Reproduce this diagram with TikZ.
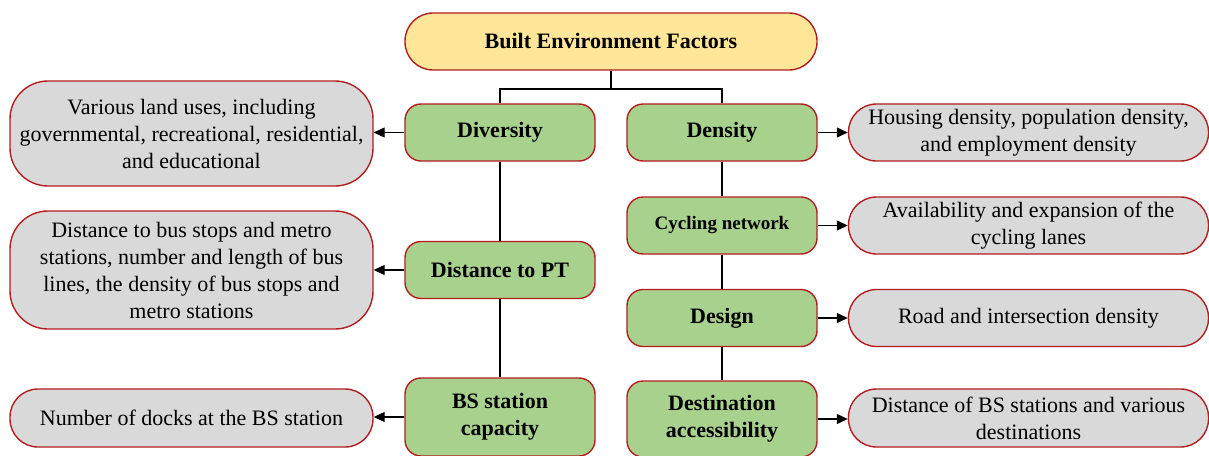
\documentclass[tikz,border=0pt]{standalone}
\usepackage{fontspec}
\IfFontExistsTF{LiberationSerif-Regular.ttf}{%
  \setmainfont{LiberationSerif}[Extension=.ttf,UprightFont=*-Regular,BoldFont=*-Bold,ItalicFont=*-Italic,BoldItalicFont=*-BoldItalic]}{%
  \setmainfont{Liberation Serif}}
\usetikzlibrary{arrows.meta}
\definecolor{bord}{HTML}{B21E1E}
\definecolor{topfill}{HTML}{FFE699}
\definecolor{grn}{HTML}{A9D18E}
\definecolor{gry}{HTML}{D9D9D9}
\begin{document}
\begin{tikzpicture}[x=1pt,y=-1pt,
  base/.style={draw=bord,line width=1.4pt,align=center,inner sep=0pt,font=\fontsize{22}{27}\selectfont},
  topbox/.style={base,fill=topfill,rounded corners=28pt,minimum width=412pt,minimum height=57pt,font=\fontsize{22}{27}\selectfont\bfseries},
  factor/.style={base,fill=grn,rounded corners=16pt,minimum width=190pt,minimum height=57pt,font=\fontsize{22}{27}\selectfont\bfseries},
  desc/.style={base,fill=gry,rounded corners=28pt,minimum width=360pt,minimum height=57pt},
  tall/.style={desc,rounded corners=38pt,minimum width=363pt},
  link/.style={line width=1.2pt,black},
  arr/.style={link,-{Triangle[length=11pt,width=10pt]}}
]
\useasboundingbox (0,0) rectangle (1209,455);
\node[topbox] (bef) at (611,41.5) {Built Environment Factors};
\node[factor] (div) at (500,132.5) {Diversity};
\node[factor] (den) at (722,132.5) {Density};
\node[factor] (dpt) at (500,270) {Distance to PT};
\node[factor,font=\fontsize{19}{27}\selectfont\bfseries] (cyc) at (722,225.5) {Cycling network};
\node[factor] (des) at (722,318) {Design};
\node[factor,minimum height=78pt] (bsc) at (500,417) {BS station\\capacity};
\node[factor,minimum height=76pt] (dac) at (722,419) {Destination\\accessibility};
\node[tall,minimum height=105pt] (d1) at (191.5,133.5) {Various land uses, including\\governmental, recreational, residential,\\and educational};
\node[tall,minimum height=118pt] (d2) at (191.5,270) {Distance to bus stops and metro\\stations, number and length of bus\\lines, the density of bus stops and\\metro stations};
\node[desc,minimum width=363pt,minimum height=58pt] (d3) at (191.5,418) {Number of docks at the BS station};
\node[desc] (d4) at (1028.5,132.5) {Housing density, population density,\\and employment density};
\node[desc] (d5) at (1028.5,225.5) {Availability and expansion of the\\cycling lanes};
\node[desc] (d6) at (1028.5,318) {Road and intersection density};
\node[desc,minimum height=58pt] (d7) at (1028.5,418) {Distance of BS stations and various\\destinations};
\coordinate (j) at (611,89);
\draw[link] (bef.south) -- (j);
\draw[link] (div.north) |- (j) -| (den.north);
\draw[link] (div) -- (dpt);
\draw[link] (dpt) -- (bsc);
\draw[link] (den) -- (cyc);
\draw[link] (cyc) -- (des);
\draw[link] (des) -- (dac);
\draw[arr] (div.west) -- (div.west -| d1.east);
\draw[arr] (dpt.west) -- (dpt.west -| d2.east);
\draw[arr] (bsc.west) -- (bsc.west -| d3.east);
\draw[arr] (den.east) -- (den.east -| d4.west);
\draw[arr] (cyc.east) -- (cyc.east -| d5.west);
\draw[arr] (des.east) -- (des.east -| d6.west);
\draw[arr] (dac.east) -- (dac.east -| d7.west);
\end{tikzpicture}
\end{document}
